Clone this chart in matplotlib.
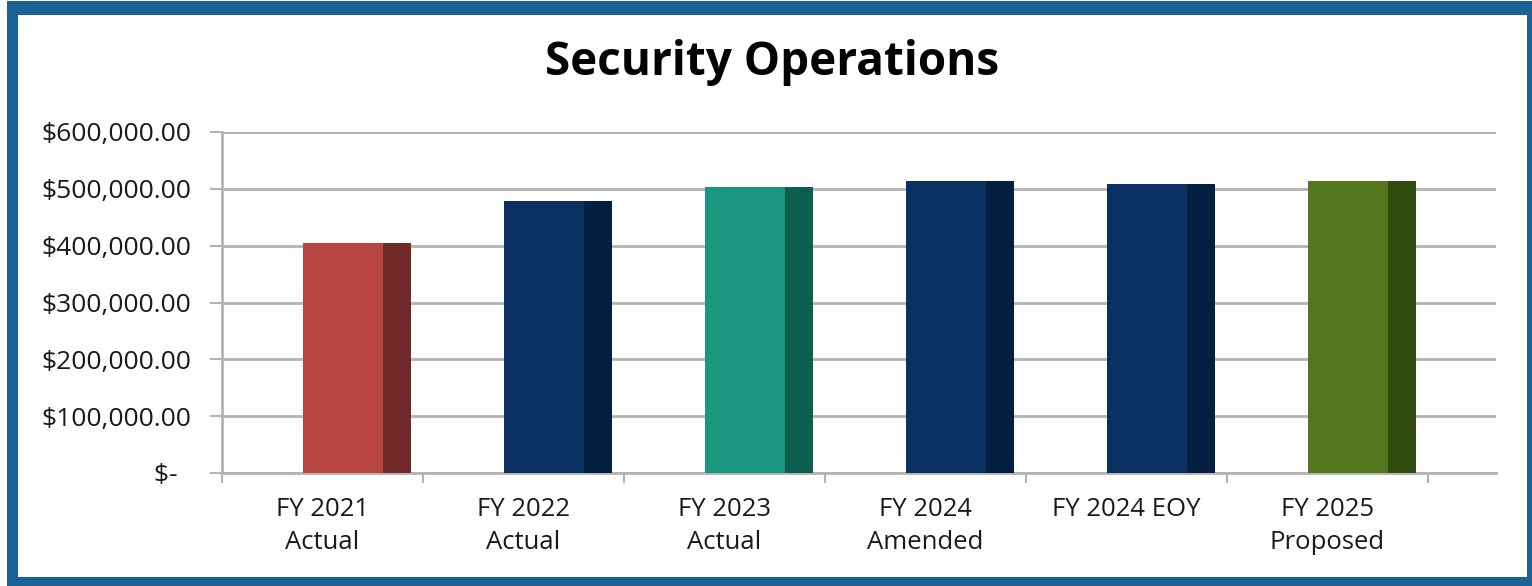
import matplotlib.pyplot as plt
from matplotlib.patches import Rectangle
import numpy as np

# chart data
categories = ['FY 2021\nActual', 'FY 2022\nActual', 'FY 2023\nActual',
              'FY 2024\nAmended', 'FY 2024 EOY', 'FY 2025\nProposed']
values = [405000, 479000, 503000, 514000, 508000, 514000]
front_colors = ['#b94543', '#0a2f61', '#1a9780', '#0a2f61', '#0a2f61', '#53771c']
side_colors = ['#722a29', '#021e40', '#0e5e4f', '#021e40', '#021e40', '#324c10']
yticks = [0, 100000, 200000, 300000, 400000, 500000, 600000]
ytick_labels = ['$-  ', '$100,000.00', '$200,000.00', '$300,000.00',
                '$400,000.00', '$500,000.00', '$600,000.00']

W, H = 1532, 586
plt.rcParams['font.family'] = ['Open Sans', 'DejaVu Sans']
fig = plt.figure(figsize=(W / 100, H / 100), dpi=100)

# blue frame round the chart
fig.add_artist(Rectangle((7 / W, 0), 1 - 7 / W, 1 - 1 / H, transform=fig.transFigure,
                         facecolor='#1b6396', edgecolor='none', zorder=-2))
fig.add_artist(Rectangle((18 / W, 1 - 577 / H), (1527 - 18) / W, (577 - 15) / H,
                         transform=fig.transFigure, facecolor='white',
                         edgecolor='none', zorder=-1))

ax = fig.add_axes([222 / W, 1 - 473 / H, (1496 - 222) / W, (473 - 132) / H])
ax.set_facecolor('none')

x = np.arange(len(categories))
ax.bar(x - 0.097, values, width=0.398, align='edge', color=front_colors, zorder=3)
ax.bar(x + 0.301, values, width=0.139, align='edge', color=side_colors, zorder=3)

ax.set_xlim(-0.5, 5.838)
ax.set_ylim(0, 600000)
ax.set_yticks(yticks)
ax.set_yticklabels(ytick_labels)
ax.yaxis.grid(True, color='#b3b3b3', linewidth=2, zorder=0)

# category labels in the middle, tick marks on the boundaries
ax.set_xticks(np.arange(-0.5, 6, 1))
ax.set_xticklabels([])
ax.set_xticks(x, minor=True)
ax.set_xticklabels(categories, minor=True, fontsize=18.5, color='#1a1a1a',
                   linespacing=1.42)
ax.tick_params(axis='x', which='minor', length=0, pad=17)
ax.tick_params(axis='x', which='major', length=7, width=1.5, color='#b3b3b3')
ax.tick_params(axis='y', length=9, width=1.5, color='#b3b3b3', labelsize=19,
               labelcolor='#1a1a1a', pad=13)

for side in ['top', 'right']:
    ax.spines[side].set_visible(False)
for side in ['left', 'bottom']:
    ax.spines[side].set_color('#b3b3b3')
    ax.spines[side].set_linewidth(2)

fig.text(0.504, 0.893, 'Security Operations', ha='center', va='center',
         fontsize=33, fontweight='bold', color='black')

fig.savefig('out.png', dpi=100)
